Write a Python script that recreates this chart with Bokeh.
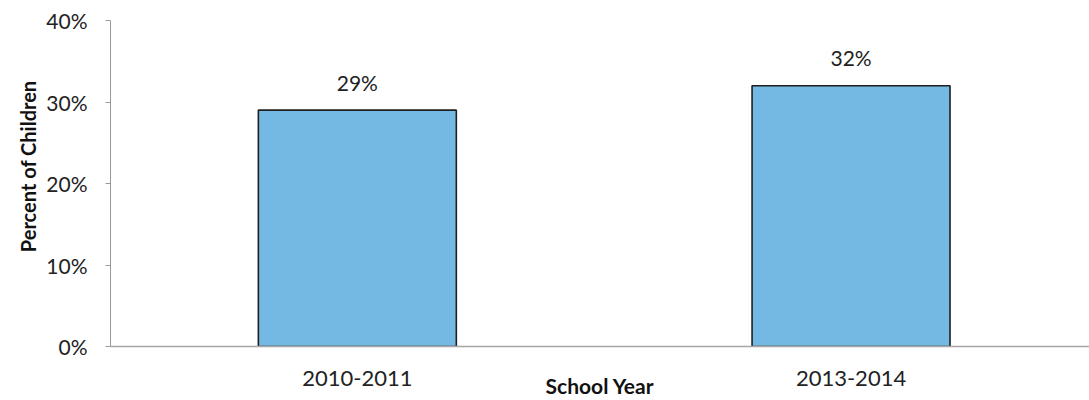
from bokeh.plotting import figure
from bokeh.models import Range1d, FixedTicker, PrintfTickFormatter, Title, ColumnDataSource
from bokeh.core.properties import value
from bokeh.embed import file_html
from bokeh.resources import INLINE

categories = ["2010-2011", "2013-2014"]
percent = [29, 32]
y_ticks = [0, 10, 20, 30, 40]
x_title = "School Year"
y_title = "Percent of Children"

FONT = "Lato"

xs = [i + 0.5 for i in range(len(categories))]
src = ColumnDataSource(dict(x=xs, top=percent, label=[f"{v}%" for v in percent]))

p = figure(width=1089, height=400, output_backend="svg", toolbar_location=None,
           x_range=Range1d(0, 1.983), y_range=Range1d(0, 40),
           min_border_left=110, min_border_right=0, min_border_top=20, min_border_bottom=53)
p.outline_line_color = None
p.grid.visible = False
p.background_fill_color = "white"
p.border_fill_color = "white"

p.vbar(x="x", top="top", width=0.401, bottom=0, source=src,
       fill_color="#74b9e3", line_color="#1f1f1f", line_width=1.6)

p.text(x="x", y="top", text="label", source=src, y_offset=-28,
       text_align="center", text_baseline="alphabetic",
       text_font=value(FONT), text_font_size="21px", text_color="#222222")

# x axis
xa = p.xaxis[0]
xa.ticker = FixedTicker(ticks=xs)
xa.major_label_overrides = {x: c for x, c in zip(xs, categories)}
xa.major_tick_out = 0
xa.major_tick_in = 0
xa.minor_tick_out = 0
xa.minor_tick_in = 0
xa.axis_line_color = "#a6a6a6"
xa.axis_line_width = 1.5
xa.major_label_standoff = 24
xa.major_label_text_font = FONT
xa.major_label_text_font_size = "22px"
xa.major_label_text_color = "#222222"
xa.axis_label = x_title
xa.axis_label_standoff = -16
xa.axis_label_text_font = FONT
xa.axis_label_text_font_size = "21px"
xa.axis_label_text_font_style = "bold"
xa.axis_label_text_color = "#111111"

# y axis
ya = p.yaxis[0]
ya.ticker = FixedTicker(ticks=y_ticks)
ya.formatter = PrintfTickFormatter(format="%d%%")
ya.major_tick_out = 5
ya.major_tick_in = 0
ya.minor_tick_out = 0
ya.minor_tick_in = 0
ya.axis_line_color = "#9a9a9a"
ya.major_tick_line_color = "#9a9a9a"
ya.major_label_standoff = 18
ya.major_label_text_font = FONT
ya.major_label_text_font_size = "21px"
ya.major_label_text_color = "#222222"

p.add_layout(Title(text=y_title, align="right", offset=60, standoff=8,
                   text_font=FONT, text_font_size="20px", text_font_style="bold",
                   text_color="#111111"), "left")

open("out.html", "w").write(file_html(p, INLINE))
